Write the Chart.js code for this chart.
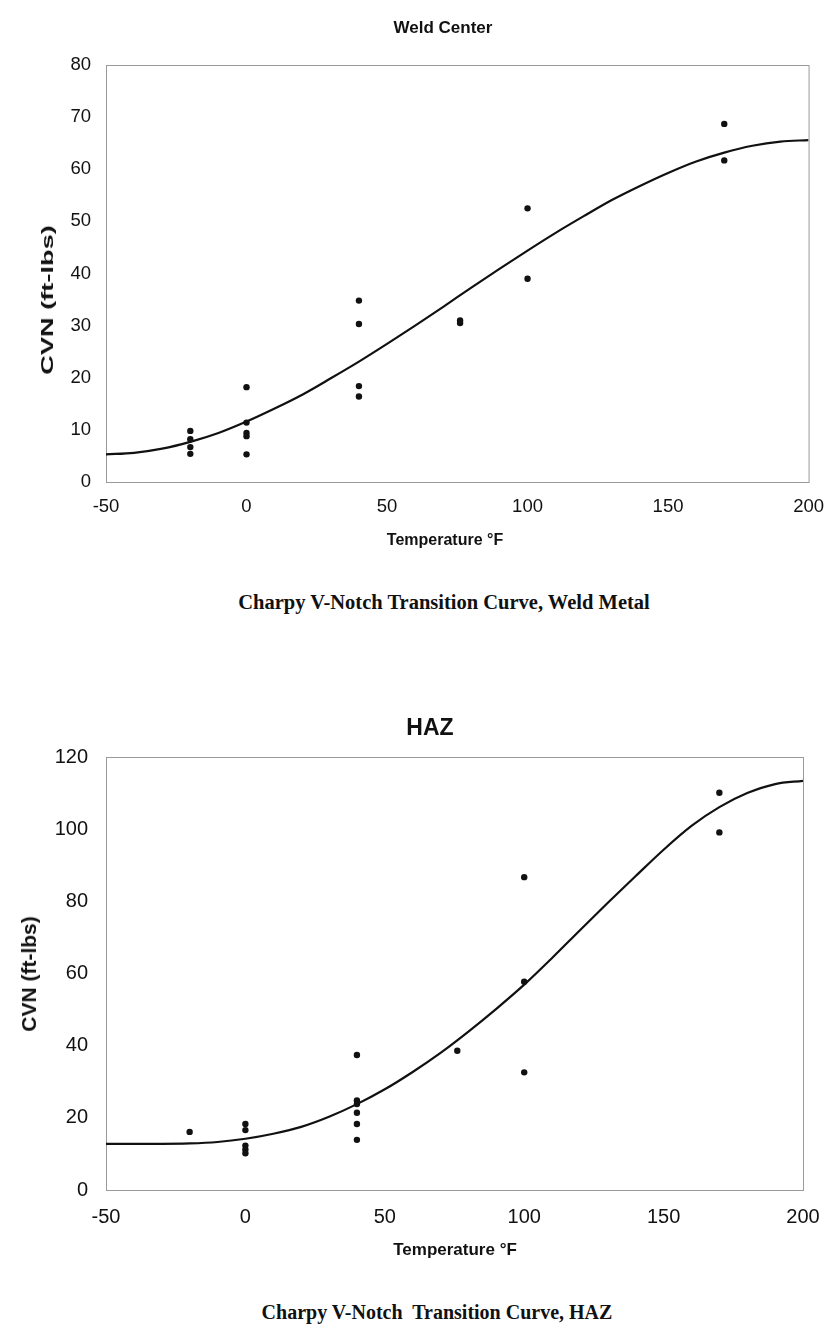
<!DOCTYPE html>
<html>
<head>
<meta charset="utf-8">
<script src="https://cdn.jsdelivr.net/npm/chart.js@4.4.0/dist/chart.umd.min.js"></script>
<style>
  body { margin: 0; background: #fff; }
  #page { position: relative; width: 838px; height: 1326px; overflow: hidden; }
  .box { position: absolute; left: 0; }
  .lbl { position: absolute; white-space: nowrap; color: #111; font-family: "Liberation Sans", Arial, sans-serif; font-weight: bold; transform: translate(-50%, -50%); }
  .caption { position: absolute; white-space: nowrap; color: #111; font: bold 20.5px "Liberation Serif", "Times New Roman", serif; transform: translate(-50%, -50%); }
</style>
</head>
<body>
<div id="page">
  <div class="box" style="top:0"><canvas id="weld" width="838" height="560"></canvas></div>
  <div class="lbl" style="left:443px;top:28px;font-size:17px">Weld Center</div>
  <div class="lbl" style="left:48px;top:300px;font-size:17px;transform:translate(-50%,-50%) rotate(-90deg) scaleX(1.6)">CVN (ft-lbs)</div>
  <div class="lbl" style="left:445px;top:540px;font-size:16px">Temperature °F</div>
  <div class="caption" style="left:444px;top:602px">Charpy V-Notch Transition Curve, Weld Metal</div>

  <div class="box" style="top:690px"><canvas id="haz" width="838" height="590"></canvas></div>
  <div class="lbl" style="left:430px;top:727px;font-size:23px">HAZ</div>
  <div class="lbl" style="left:29px;top:974px;font-size:21px;transform:translate(-50%,-50%) rotate(-90deg)">CVN (ft-lbs)</div>
  <div class="lbl" style="left:455px;top:1250px;font-size:17px">Temperature °F</div>
  <div class="caption" style="left:437px;top:1312px;font-size:20px">Charpy V-Notch&nbsp; Transition Curve, HAZ</div>
</div>
<script>
// Weld center test results (temperature F, CVN ft-lbs)
const weldTemps = [-20, -20, -20, -20, 0, 0, 0, 0, 0, 40, 40, 40, 40, 76, 76, 100, 100, 170, 170];
const weldCvn = [9.8, 8.2, 6.7, 5.4, 18.2, 11.4, 9.4, 8.8, 5.3, 34.8, 30.3, 18.4, 16.4, 30.5, 31.0, 52.5, 39.0, 68.7, 61.7];

// HAZ test results
const hazTemps = [-20, 0, 0, 0, 0, 0, 40, 40, 40, 40, 40, 40, 76, 100, 100, 100, 170, 170];
const hazCvn = [16.1, 18.3, 16.6, 12.3, 11.2, 10.2, 37.4, 24.8, 23.8, 21.4, 18.3, 13.9, 38.6, 86.7, 57.7, 32.6, 110.1, 99.1];

// transition curves
const fitTemps = [-50, -40, -30, -20, -10, 0, 10, 20, 30, 40, 50, 60, 70, 80, 90, 100, 110, 120, 130, 140, 150, 160, 170, 180, 190, 200];
const weldFit = [5.3, 5.6, 6.4, 7.7, 9.4, 11.6, 14.1, 16.8, 19.9, 23.1, 26.5, 30.0, 33.6, 37.3, 40.9, 44.4, 47.8, 51.0, 54.1, 56.8, 59.3, 61.5, 63.2, 64.5, 65.3, 65.6];
const hazFit = [12.8, 12.8, 12.8, 12.9, 13.3, 14.2, 15.6, 17.5, 20.3, 23.8, 27.9, 32.7, 38.0, 43.9, 50.2, 56.9, 64.3, 72.0, 79.6, 87.0, 94.3, 100.9, 106.1, 110.0, 112.5, 113.4];

const xTicks = [-50, 0, 50, 100, 150, 200];

const FONT = '"Liberation Sans", Arial, sans-serif';
const INK = '#111';

// light frame around the plot area, like the excel original
const frame = {
  id: 'frame',
  beforeDatasetsDraw(chart) {
    const a = chart.chartArea, ctx = chart.ctx;
    ctx.save();
    ctx.strokeStyle = '#9a9a9a';
    ctx.lineWidth = 1;
    ctx.strokeRect(a.left + 0.5, a.top + 0.5, a.right - a.left, a.bottom - a.top);
    ctx.restore();
  }
};

function pairs(xs, ys) {
  return xs.map((x, i) => ({ x: x, y: ys[i] }));
}

function makeChart(id, o) {
  return new Chart(document.getElementById(id), {
    type: 'scatter',
    data: {
      datasets: [
        {
          data: pairs(o.temps, o.cvn),
          pointStyle: 'circle',
          pointRadius: 3.2,
          backgroundColor: INK,
          borderColor: INK,
          borderWidth: 0,
        },
        {
          data: pairs(fitTemps, o.fit),
          showLine: true,
          pointRadius: 0,
          borderColor: INK,
          borderWidth: 2.2,
          cubicInterpolationMode: 'monotone',
        },
      ],
    },
    options: {
      responsive: false,
      animation: false,
      devicePixelRatio: 1,
      layout: { padding: { left: 0, right: o.padRight, top: o.padTop, bottom: 0 } },
      plugins: {
        legend: { display: false },
        tooltip: { enabled: false },
        title: { display: false },
      },
      scales: {
        x: {
          type: 'linear',
          min: -50,
          max: 200,
          afterBuildTicks: s => { s.ticks = xTicks.map(v => ({ value: v })); },
          afterFit: s => { s.height = o.xHeight; },
          grid: { display: false, drawTicks: false },
          border: { display: false },
          ticks: { color: INK, padding: o.xTickPad, font: { family: FONT, size: o.tickSize } },
        },
        y: {
          min: 0,
          max: o.yMax,
          afterFit: s => { s.width = 106; },
          grid: { display: false, drawTicks: false },
          border: { display: false },
          ticks: { stepSize: o.yStep, color: INK, padding: o.yTickPad, font: { family: FONT, size: o.tickSize } },
        },
      },
    },
    plugins: [frame],
  });
}

makeChart('weld', {
  temps: weldTemps, cvn: weldCvn, fit: weldFit,
  padTop: 65, yMax: 80, yStep: 10, padRight: 24,
  tickSize: 18.5, xTickPad: 14, yTickPad: 15,
  xHeight: 78,
});

makeChart('haz', {
  temps: hazTemps, cvn: hazCvn, fit: hazFit,
  padTop: 67, yMax: 120, yStep: 20, padRight: 35,
  tickSize: 20, xTickPad: 15, yTickPad: 18,
  xHeight: 90,
});
</script>
</body>
</html>
